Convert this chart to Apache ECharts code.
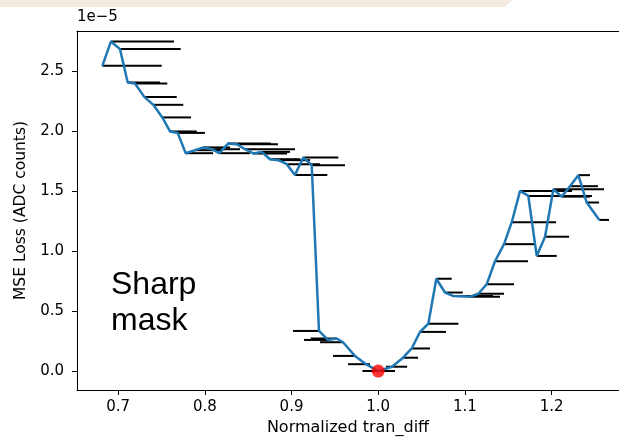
<!DOCTYPE html>
<html>
<head>
<meta charset="utf-8">
<script src="https://cdn.jsdelivr.net/npm/echarts@6/dist/echarts.min.js"></script>
<style>
  html, body { margin: 0; padding: 0; background: #fff; }
  #main { width: 619px; height: 438px; }
</style>
</head>
<body>
<div id="main"></div>
<script>
// 数据 (MSE loss in units of 1e-5)
const tranDiff = [0.6818, 0.6918, 0.7022, 0.7111, 0.7195, 0.7302, 0.7406, 0.7510, 0.7599, 0.7687,
  0.7780, 0.7887, 0.7983, 0.8080, 0.8167, 0.8271, 0.8368, 0.8464, 0.8559, 0.8656,
  0.8752, 0.8848, 0.8945, 0.9040, 0.9136, 0.9233, 0.9317, 0.9421, 0.9521, 0.9594,
  0.9732, 0.9859, 1.0000, 1.0159, 1.0286, 1.0386, 1.0482, 1.0578, 1.0670, 1.0770,
  1.0863, 1.1059, 1.1155, 1.1251, 1.1347, 1.1451, 1.1540, 1.1636, 1.1731, 1.1828,
  1.1924, 1.2020, 1.2116, 1.2212, 1.2308, 1.2405, 1.2550]
const mseLoss = [2.543, 2.746, 2.682, 2.404, 2.396, 2.284, 2.218, 2.113, 1.996, 1.984,
  1.815, 1.840, 1.863, 1.848, 1.815, 1.896, 1.890, 1.848, 1.813, 1.826,
  1.765, 1.757, 1.723, 1.634, 1.779, 1.715, 0.334, 0.259, 0.271, 0.240,
  0.126, 0.057, 0.000, 0.036, 0.111, 0.188, 0.326, 0.394, 0.769, 0.654,
  0.626, 0.619, 0.644, 0.723, 0.915, 1.057, 1.240, 1.501, 1.459, 0.959,
  1.119, 1.515, 1.453, 1.540, 1.632, 1.404, 1.259]
const barStart = [0.6818, 0.6918, 0.7022, 0.7111, 0.7195, 0.7302, 0.7406, 0.7510, 0.7599, 0.7687,
  0.7780, 0.7887, 0.7983, 0.8080, 0.8167, 0.8271, 0.8368, 0.8464, 0.8559, 0.8656,
  0.8752, 0.8848, 0.8945, 0.9040, 0.9136, 0.9233, 0.9017, 0.9144, 0.9221, 0.9329,
  0.9479, 0.9652, 0.9818, 1.0090, 1.0286, 1.0386, 1.0482, 1.0578, 1.0670, 1.0770,
  1.0863, 1.1059, 1.1155, 1.1251, 1.1347, 1.1451, 1.1540, 1.1636, 1.1731, 1.1828,
  1.1924, 1.2020, 1.2116, 1.2212, 1.2308, 1.2405, 1.2550]
const barEnd = [0.7503, 0.7645, 0.7722, 0.7483, 0.7567, 0.7676, 0.7752, 0.7841, 0.7907, 0.8002,
  0.8095, 0.8210, 0.8291, 0.8406, 0.8521, 0.8760, 0.8844, 0.9040, 0.8948, 0.8983,
  0.9098, 0.9213, 0.9329, 0.9413, 0.9540, 0.9617, 0.9317, 0.9421, 0.9521, 0.9594,
  0.9732, 0.9905, 1.0194, 1.0333, 1.0459, 1.0597, 1.0782, 1.0924, 1.0848, 1.0975,
  1.1324, 1.1405, 1.1451, 1.1566, 1.1728, 1.1797, 1.2051, 1.2235, 1.2466, 1.2059,
  1.2201, 1.2604, 1.2443, 1.2535, 1.2443, 1.2547, 1.2662]
const bestPoint = [1.0, 0.0]
const xTicks = [0.7, 0.8, 0.9, 1.0, 1.1, 1.2]
const yTicks = [0.0, 0.5, 1.0, 1.5, 2.0, 2.5]

const font = 'DejaVu Sans'
const chart = echarts.init(document.getElementById('main'))

const lineData = tranDiff.map((x, i) => [x, mseLoss[i]])
const barData = mseLoss.map((y, i) => [barStart[i], barEnd[i], y])

const option = {
  animation: false,
  backgroundColor: '#fff',
  grid: { left: 77, top: 31, bottom: 48, right: 0, show: false, outerBoundsMode: 'none', containLabel: false },
  xAxis: [
    {
      type: 'value',
      min: 0.6526, max: 1.2777,
      name: 'Normalized tran_diff',
      nameLocation: 'middle',
      nameGap: 30,
      nameTextStyle: { fontFamily: font, fontSize: 16, color: '#000' },
      axisLine: { show: true, onZero: false, lineStyle: { color: '#000', width: 1 } },
      axisTick: { show: true, length: 5, lineStyle: { color: '#000' }, customValues: xTicks },
      axisLabel: {
        margin: 10, fontFamily: font, fontSize: 15, color: '#000',
        customValues: xTicks, formatter: v => v.toFixed(1)
      },
      splitLine: { show: false }
    },
    {
      // top spine only
      type: 'value', position: 'top',
      min: 0.6526, max: 1.2777,
      axisLine: { show: true, onZero: false, lineStyle: { color: '#000', width: 1 } },
      axisTick: { show: false }, axisLabel: { show: false }, splitLine: { show: false }
    }
  ],
  yAxis: {
    type: 'value',
    min: -0.158, max: 2.833,
    name: 'MSE Loss (ADC counts)',
    nameLocation: 'middle',
    nameGap: 46,
    nameTextStyle: { fontFamily: font, fontSize: 15.5, color: '#000' },
    axisLine: { show: true, onZero: false, lineStyle: { color: '#000', width: 1 } },
    axisTick: { show: true, length: 5, lineStyle: { color: '#000' }, customValues: yTicks },
    axisLabel: {
      margin: 13, fontFamily: font, fontSize: 15, color: '#000',
      customValues: yTicks, formatter: v => v.toFixed(1)
    },
    splitLine: { show: false }
  },
  graphic: [
    {
      type: 'polygon', silent: true, z: 10,
      shape: { points: [[0, 0], [512, 0], [505, 7], [0, 7]] },
      style: { fill: '#f3ebdf' }
    },
    {
      type: 'text', left: 77, top: 10,
      style: { text: '1e\u22125', font: '15px "DejaVu Sans"', fill: '#000' }
    },
    {
      type: 'text', left: 111, top: 267,
      style: { text: 'Sharp\nmask', font: '32px "Liberation Sans"', lineHeight: 36, fill: '#000' }
    }
  ],
  series: [
    {
      type: 'custom',
      data: barData,
      z: 2,
      renderItem: (params, api) => {
        const p0 = api.coord([api.value(0), api.value(2)])
        const p1 = api.coord([api.value(1), api.value(2)])
        return {
          type: 'line',
          shape: { x1: p0[0], y1: p0[1], x2: p1[0], y2: p1[1] },
          style: { stroke: '#000', lineWidth: 2 }
        }
      },
      encode: { x: [0, 1], y: 2 }
    },
    {
      type: 'line',
      data: lineData,
      z: 3,
      symbol: 'none',
      lineStyle: { color: '#1f77b4', width: 2.5 }
    },
    {
      type: 'scatter',
      data: [bestPoint],
      z: 4,
      symbolSize: 13,
      itemStyle: { color: '#ff0000' }
    }
  ]
}
chart.setOption(option)
</script>
</body>
</html>
